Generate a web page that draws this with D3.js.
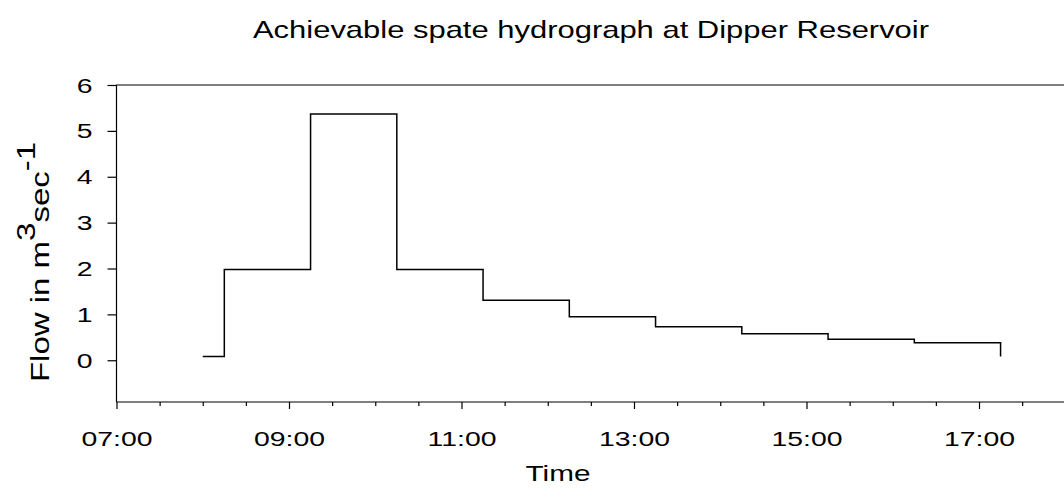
<!DOCTYPE html>
<html>
<head>
<meta charset="utf-8">
<script src="https://cdn.jsdelivr.net/npm/d3@7"></script>
<style>
  html, body { margin: 0; padding: 0; background: #fff; }
  svg { display: block; font-family: "Liberation Sans", Arial, Helvetica, sans-serif; }
</style>
</head>
<body>
<svg id="chart" width="1064" height="504"></svg>
<script>
// ---- data ----
const stepTimes  = ["08:00","08:15","09:15","10:15","11:15","12:15","13:15","14:15","15:15","16:15","17:15"];
const flowValues = [0.08, 1.98, 5.37, 1.98, 1.31, 0.95, 0.73, 0.58, 0.46, 0.38, 0.08];
const yTickValues = [0, 1, 2, 3, 4, 5, 6];
const xTickLabels = ["07:00","09:00","11:00","13:00","15:00","17:00"];
const titleText = "Achievable spate hydrograph at Dipper Reservoir";
const xLabelText = "Time";

// ---- setup ----
const svg = d3.select("#chart");
const parse = d3.timeParse("%H:%M");
const fmt = d3.timeFormat("%H:%M");
const data = stepTimes.map((t, i) => ({ t: parse(t), v: flowValues[i] }));

const plotLeft = 116.5, plotBottom = 402, plotTop = 85;
const x = d3.scaleTime()
  .domain([parse("07:00"), parse("18:00")])
  .range([plotLeft, plotLeft + 11 * 86.25]);
const y = d3.scaleLinear()
  .domain([-0.91, 6])
  .range([plotBottom, plotTop]);

const SX = 1.42; // glyphs are stretched along their reading direction

// frame (top line + left line); right side lies beyond the visible area
svg.append("path")
  .attr("d", `M${x.range()[1] + 20},${plotTop}H${plotLeft}V${plotBottom}`)
  .attr("fill", "none").attr("stroke", "#000").attr("stroke-width", 1.2);

// y axis
const yAxis = d3.axisLeft(y).tickValues(yTickValues).tickSize(9).tickPadding(0)
  .tickFormat(d3.format("d"));
const gy = svg.append("g").attr("transform", `translate(${plotLeft},0)`).call(yAxis);
gy.select(".domain").remove();
gy.selectAll(".tick line").attr("stroke", "#000").attr("stroke-width", 1.2);
gy.selectAll(".tick text").each(function () {
  d3.select(this).attr("x", null).attr("dy", null).attr("y", null)
   .attr("text-anchor", "end")
   .attr("font-size", 20).attr("fill", "#000")
   .attr("transform", `translate(-24,7) scale(${SX},1)`);
});

// x axis: major ticks every 2h, minor every 30 min
const majors = xTickLabels.map(parse);
const minors = d3.timeMinute.every(30).range(parse("07:00"), parse("18:01"))
  .filter(d => !majors.some(m => +m === +d));
const xMinor = d3.axisBottom(x).tickValues(minors).tickSize(4).tickFormat("");
const gxm = svg.append("g").attr("transform", `translate(0,${plotBottom})`).call(xMinor);
gxm.select(".domain").remove();
gxm.selectAll(".tick line").attr("stroke", "#000").attr("stroke-width", 1.2);

const xMajor = d3.axisBottom(x).tickValues(majors).tickSize(7).tickFormat(fmt);
const gx = svg.append("g").attr("transform", `translate(0,${plotBottom})`).call(xMajor);
gx.select(".domain").attr("d", `M${plotLeft},0H${x.range()[1] + 20}`).attr("stroke", "#000").attr("stroke-width", 1.2);
gx.selectAll(".tick line").attr("stroke", "#000").attr("stroke-width", 1.2);
gx.selectAll(".tick text").each(function () {
  d3.select(this).attr("y", null).attr("dy", null)
    .attr("font-size", 20).attr("fill", "#000")
    .attr("transform", `translate(0,44) scale(${SX},1)`);
});

// step line
const line = d3.line().x(d => x(d.t)).y(d => y(d.v)).curve(d3.curveStepAfter);
svg.append("path").datum(data)
  .attr("d", line)
  .attr("fill", "none").attr("stroke", "#000").attr("stroke-width", 1.5);

// title
svg.append("text")
  .attr("text-anchor", "middle").attr("font-size", 24).attr("fill", "#000")
  .attr("transform", `translate(591,38) scale(1.29,1)`)
  .text(titleText);

// x label
svg.append("text")
  .attr("text-anchor", "middle").attr("font-size", 22).attr("fill", "#000")
  .attr("transform", `translate(558,481) scale(1.35,1)`)
  .text(xLabelText);

// y label with superscripts (stretched along its reading direction)
const yl = svg.append("text")
  .attr("text-anchor", "middle").attr("font-size", 25).attr("fill", "#000")
  .attr("transform", `translate(49,262) rotate(-90) scale(1.32,1)`);
yl.append("tspan").text("Flow in m");
yl.append("tspan").attr("baseline-shift", "super").text("3");
yl.append("tspan").text("sec");
yl.append("tspan").attr("baseline-shift", "super").text("-1");
</script>
</body>
</html>
